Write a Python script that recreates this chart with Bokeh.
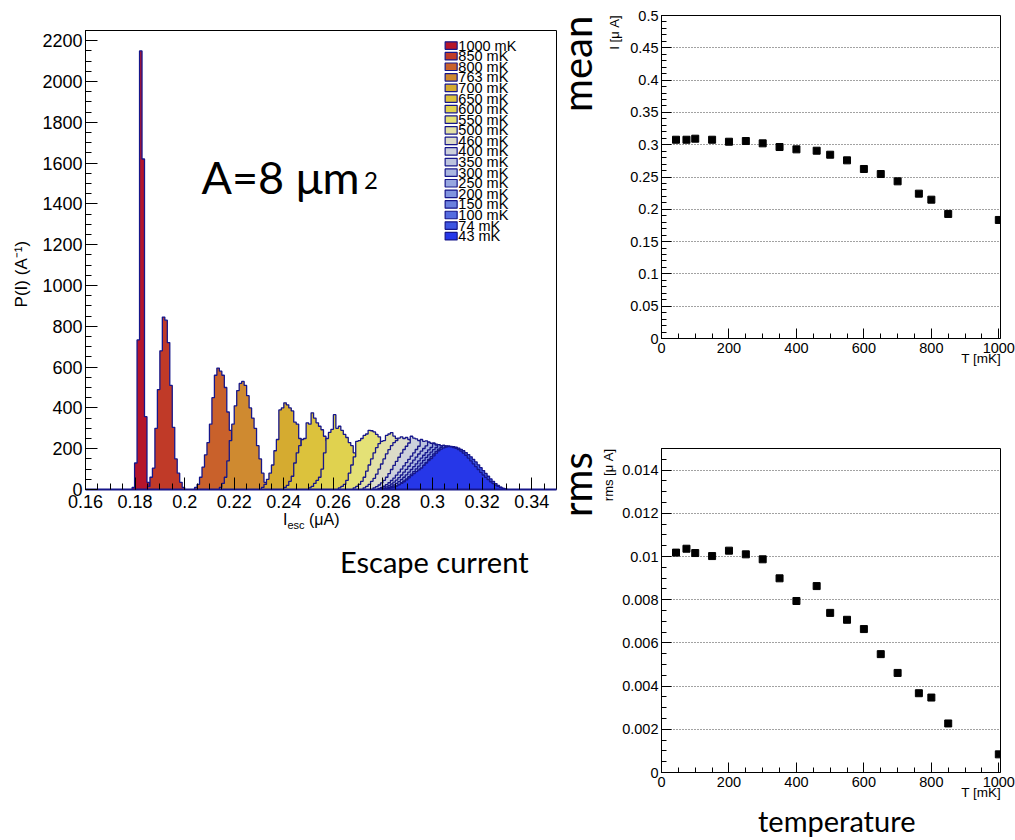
import math
import numpy as np
from bokeh.plotting import figure
from bokeh.layouts import row, column
from bokeh.models import (Range1d, Label, SingleIntervalTicker, CustomJSTickFormatter, Div)
from bokeh.embed import file_html
from bokeh.resources import INLINE
from bokeh.core.properties import value

# ---------------- data ----------------
temps = [1000, 850, 800, 763, 700, 650, 600, 550, 500, 460, 400, 350, 300, 250, 200, 150, 100, 74, 43]
bin_width = 0.001
hist_start = [0.1788, 0.185, 0.204, 0.214, 0.231, 0.240, 0.250, 0.262, 0.268, 0.272,
              0.276, 0.278, 0.279, 0.280, 0.281, 0.282, 0.283, 0.284, 0.281]
h1000 = [10, 130, 733, 2150, 1620, 357, 35]
h850 = [15, 60, 105, 300, 490, 680, 845, 830, 720, 510, 305, 150, 80, 35, 10]
h800 = [10, 25, 60, 110, 170, 230, 320, 450, 560, 595, 580, 560, 500, 380, 290, 195, 115, 60, 30, 12]
h763 = [10, 30, 60, 140, 240, 320, 410, 485, 520, 530, 510, 460, 400, 350, 300, 215, 150, 80, 35, 15]
h700 = [10, 25, 50, 80, 120, 190, 245, 390, 400, 425, 415, 400, 385, 330, 320, 250, 190, 110, 60, 30, 12]
h650 = [10, 20, 40, 65, 130, 180, 215, 245, 250, 327, 320, 376, 350, 327, 310, 293, 261, 240, 190, 140, 90, 50, 20, 8]
h600 = [8, 15, 30, 45, 60, 100, 180, 250, 280, 295, 367, 300, 310, 290, 270, 255, 230, 215, 180, 130, 80, 45, 20, 8]
h550 = [8, 15, 25, 45, 80, 120, 160, 236, 240, 250, 265, 272, 290, 288, 282, 270, 258, 212, 180, 140, 95, 55, 25, 10]
h500 = [8, 15, 25, 40, 60, 90, 120, 150, 180, 205, 225, 236, 240, 265, 272, 279, 262, 250, 245, 212, 190, 150, 110, 70, 40, 18, 8]
h460 = [8, 15, 25, 40, 55, 75, 100, 125, 150, 175, 195, 215, 230, 240, 252, 258, 250, 255, 245, 240, 225, 210, 180, 140, 95, 55, 25, 10]
h400 = [8, 14, 22, 32, 45, 60, 78, 98, 118, 138, 158, 178, 196, 212, 228, 261, 252, 248, 240, 236, 228, 214, 196, 172, 145, 115, 86, 58, 34, 16, 6]
h350 = [6, 10, 16, 24, 33, 44, 56, 70, 85, 100, 116, 132, 148, 164, 180, 196, 212, 245, 236, 238, 232, 226, 218, 206, 190, 170, 146, 120, 92, 66, 42, 24, 10, 4]
h300 = [5, 8, 13, 19, 27, 36, 46, 58, 71, 85, 99, 114, 129, 144, 159, 174, 188, 201, 214, 232, 226, 228, 222, 216, 208, 198, 185, 168, 148, 125, 100, 75, 52, 32, 17, 7, 3]
h250 = [4, 7, 11, 16, 22, 30, 39, 49, 60, 72, 85, 98, 112, 126, 140, 154, 168, 181, 194, 206, 225, 218, 220, 215, 210, 203, 194, 183, 169, 152, 132, 110, 88, 66, 46, 29, 16, 7, 3]
h200 = [3, 6, 9, 13, 18, 25, 33, 42, 52, 63, 75, 88, 101, 115, 129, 143, 157, 170, 183, 195, 206, 220, 214, 216, 212, 207, 200, 191, 180, 166, 150, 132, 112, 92, 72, 53, 37, 23, 12, 5, 2]
h150 = [3, 5, 8, 12, 16, 22, 29, 37, 46, 56, 67, 79, 92, 105, 119, 133, 147, 161, 174, 187, 198, 207, 216, 212, 213, 209, 204, 197, 188, 177, 163, 148, 131, 113, 95, 77, 60, 44, 30, 18, 9, 4]
h100 = [3, 5, 7, 10, 14, 19, 25, 32, 40, 49, 59, 70, 82, 95, 108, 122, 136, 150, 164, 177, 189, 200, 213, 210, 211, 208, 204, 198, 190, 180, 168, 154, 139, 123, 106, 89, 72, 56, 41, 28, 17, 9, 4]
h74 = [3, 4, 6, 9, 13, 18, 24, 31, 39, 48, 58, 69, 81, 94, 107, 121, 135, 149, 163, 176, 188, 199, 212, 208, 210, 207, 203, 197, 190, 181, 171, 160, 148, 135, 121, 107, 93, 79, 65, 52, 40, 29, 20, 12, 6, 2]
h43 = [3, 5, 8, 12, 17, 23, 30, 38, 47, 57, 68, 78, 88, 96, 105, 118, 130, 142, 152, 165, 178, 190, 198, 204, 208, 210, 209, 206, 202, 196, 188, 178, 167, 154, 140, 126, 112, 98, 84, 71, 59, 48, 38, 29, 21, 15, 10, 6, 3]
hist_counts = [h1000, h850, h800, h763, h700, h650, h600, h550, h500, h460,
               h400, h350, h300, h250, h200, h150, h100, h74, h43]

# mean and rms vs temperature
T_pts = [43, 74, 100, 150, 200, 250, 300, 350, 400, 460, 500, 550, 600, 650, 700, 763, 800, 850, 1000]
mean_I = [0.3077, 0.3077, 0.3093, 0.3077, 0.3046, 0.3057, 0.3021, 0.2964, 0.2928, 0.2907,
          0.2845, 0.2758, 0.2624, 0.2546, 0.2433, 0.2242, 0.2149, 0.1928, 0.1835]
rms_I = [0.01018, 0.01036, 0.01016, 0.01002, 0.01027, 0.01010, 0.00987, 0.00899, 0.00794, 0.00863,
         0.00739, 0.00707, 0.00664, 0.00548, 0.00461, 0.00367, 0.00347, 0.00227, 0.00084]

# ---------------- styles ----------------
palette = ["#b5152b", "#c03a28", "#c9612b", "#cf8a30", "#d5ab30", "#dcc23c", "#e0d24f",
           "#e4e176", "#e2e1a6", "#dcdcc8", "#ccd0dc", "#bcc3de", "#aab6e0", "#96a6e0",
           "#8194df", "#6b80de", "#546bdf", "#3d55e1", "#2637e8"]
OUT = "#16168a"
TICKFONT = "Liberation Sans"
BIG = "Lato"
NB = "\u00a0"

fmt = CustomJSTickFormatter(code="return String(Math.round(tick*1e6)/1e6);")


def style_axes(p, xtick, xminor, ytick, yminor, fsize, tin, tminor):
    p.xaxis.ticker = SingleIntervalTicker(interval=xtick, num_minor_ticks=xminor)
    p.yaxis.ticker = SingleIntervalTicker(interval=ytick, num_minor_ticks=yminor)
    for ax in (p.xaxis, p.yaxis):
        ax.formatter = fmt
        ax.major_tick_in = tin
        ax.major_tick_out = 0
        ax.minor_tick_in = tminor
        ax.minor_tick_out = 0
        ax.major_label_text_font = TICKFONT
        ax.major_label_text_font_size = fsize
        ax.major_label_text_color = "black"
        ax.axis_line_color = "black"
        ax.major_tick_line_color = "black"
        ax.minor_tick_line_color = "black"
        ax.axis_label_text_font = TICKFONT
        ax.axis_label_text_font_style = "normal"
        ax.axis_label_text_color = "black"
    p.xaxis.major_label_standoff = 4
    p.yaxis.major_label_standoff = 3
    p.outline_line_color = "black"
    p.outline_line_width = 1
    p.background_fill_color = "white"
    p.border_fill_color = "white"


def set_label(ax, text, align, npad, fsize, standoff):
    ax.axis_label_text_font_size = fsize
    try:
        ax.axis_label_standoff = standoff
    except Exception:
        ax.axis_label_standoff = 0
    try:
        ax.axis_label_align = align
        ax.axis_label = text
    except Exception:
        ax.axis_label = NB * npad + text


# ---------------- left: histograms ----------------
left = figure(width=557, height=513, x_range=Range1d(0.16, 0.35), y_range=Range1d(0, 2250),
              output_backend="svg", toolbar_location=None,
              min_border_left=85, min_border_right=1, min_border_top=30, min_border_bottom=24)
left.xgrid.visible = False
left.ygrid.visible = False
style_axes(left, 0.02, 4, 200, 4, "18px", 12, 6)
left.xaxis.major_label_standoff = 5
left.xaxis.axis_line_color = OUT
left.xaxis.axis_line_width = 2
left.yaxis.axis_label = "P(I) (A⁻¹)" + NB * 6
left.yaxis.axis_label_text_font_size = "17px"
left.yaxis.axis_label_standoff = 8

for start, counts, color in zip(hist_start, hist_counts, palette):
    c = np.asarray(counts, dtype=float)
    edges = start + bin_width * np.arange(len(c) + 1)
    xs = [edges[0]]
    ys = [0.0]
    for i in range(len(c)):
        xs += [edges[i], edges[i + 1]]
        ys += [c[i], c[i]]
    xs.append(edges[-1])
    ys.append(0.0)
    left.patch(xs, ys, fill_color=color, line_color=None)
    left.line(xs, ys, line_color=OUT, line_width=1.3)

# legend (manual, tight ROOT-like spacing)
leg_top = 2176
leg_step = 51.9
leg_y = [leg_top - i * leg_step for i in range(len(temps))]
leg_x_box = 0.3075
leg_x_txt = 0.3104
left.rect(x=[leg_x_box] * len(temps), y=leg_y, width=12, height=7.5,
          width_units="screen", height_units="screen",
          fill_color=palette, line_color=OUT, line_width=1.2)
left.text(x=[leg_x_txt] * len(temps), y=leg_y, text=[f"{t} mK" for t in temps],
          text_font=value(TICKFONT), text_font_size="14.5px", text_baseline="middle",
          text_color="black")

left.add_layout(Label(x=0.2068, y=1400, text="A=8 μm", text_font=BIG,
                      text_font_size="45px", text_color="black"))
left.add_layout(Label(x=0.2723, y=1475, text="2", text_font=BIG,
                      text_font_size="24px", text_color="black"))

left_div = Div(width=557, height=327, margin=0, text=(
    '<div style="position:relative;width:557px;height:327px;">'
    '<div style="position:absolute;left:283px;top:-1px;font-family:\'Liberation Sans\';'
    'font-size:16px;line-height:16px;white-space:nowrap;color:#000;">'
    'I<span style="font-size:11px;vertical-align:-4px;line-height:0;">esc</span> (μA)</div>'
    '<div style="position:absolute;left:340px;top:34px;font-family:Lato;'
    'font-size:29px;line-height:29px;white-space:nowrap;color:#000;">Escape current</div>'
    '</div>'))

mid_div = Div(width=40, height=840, margin=0, text=(
    '<div style="position:relative;width:40px;height:840px;">'
    '<div style="position:absolute;left:0px;top:112px;transform:rotate(-90deg);'
    'transform-origin:0 0;font-family:Lato;font-size:40px;line-height:40px;'
    'white-space:nowrap;color:#000;">mean</div>'
    '<div style="position:absolute;left:0px;top:517px;transform:rotate(-90deg);'
    'transform-origin:0 0;font-family:Lato;font-size:40px;line-height:40px;'
    'white-space:nowrap;color:#000;">rms</div>'
    '</div>'))

# ---------------- right top: mean ----------------
top = figure(width=418, height=400, x_range=Range1d(0, 1005), y_range=Range1d(0, 0.5),
             output_backend="svg", toolbar_location=None,
             min_border_left=64, min_border_right=15, min_border_top=15, min_border_bottom=62)
style_axes(top, 200, 4, 0.05, 5, "14.5px", 10, 5)
top.xgrid.visible = False
top.ygrid.grid_line_color = "#444444"
top.ygrid.grid_line_dash = "1 2"
top.ygrid.grid_line_width = 1
top.scatter(T_pts, mean_I, marker="square", size=7, color="black")
set_label(top.xaxis, "T [mK]", "right", 80, "13.5px", -5)
set_label(top.yaxis, "I [μ A]", "right", 80, "13px", 5)

# ---------------- right bottom: rms ----------------
bot = figure(width=418, height=406, x_range=Range1d(0, 1005), y_range=Range1d(0, 0.015),
             output_backend="svg", toolbar_location=None,
             min_border_left=64, min_border_right=15, min_border_top=48, min_border_bottom=34)
style_axes(bot, 200, 4, 0.002, 4, "14.5px", 10, 5)
bot.xgrid.visible = False
bot.ygrid.grid_line_color = "#444444"
bot.ygrid.grid_line_dash = "1 2"
bot.ygrid.grid_line_width = 1
bot.scatter(T_pts, rms_I, marker="square", size=7, color="black")
set_label(bot.xaxis, "T [mK]", "right", 80, "13.5px", -5)
set_label(bot.yaxis, "rms [μ A]", "right", 75, "13px", 3)

temp_div = Div(width=418, height=34, margin=0, text=(
    '<div style="position:relative;width:418px;height:34px;">'
    '<div style="position:absolute;left:161px;top:0px;font-family:Lato;'
    'font-size:29px;line-height:29px;white-space:nowrap;color:#000;">temperature</div>'
    '</div>'))

layout = row(column(left, left_div), mid_div, column(top, bot, temp_div))
open("out.html", "w").write(file_html(layout, INLINE))
